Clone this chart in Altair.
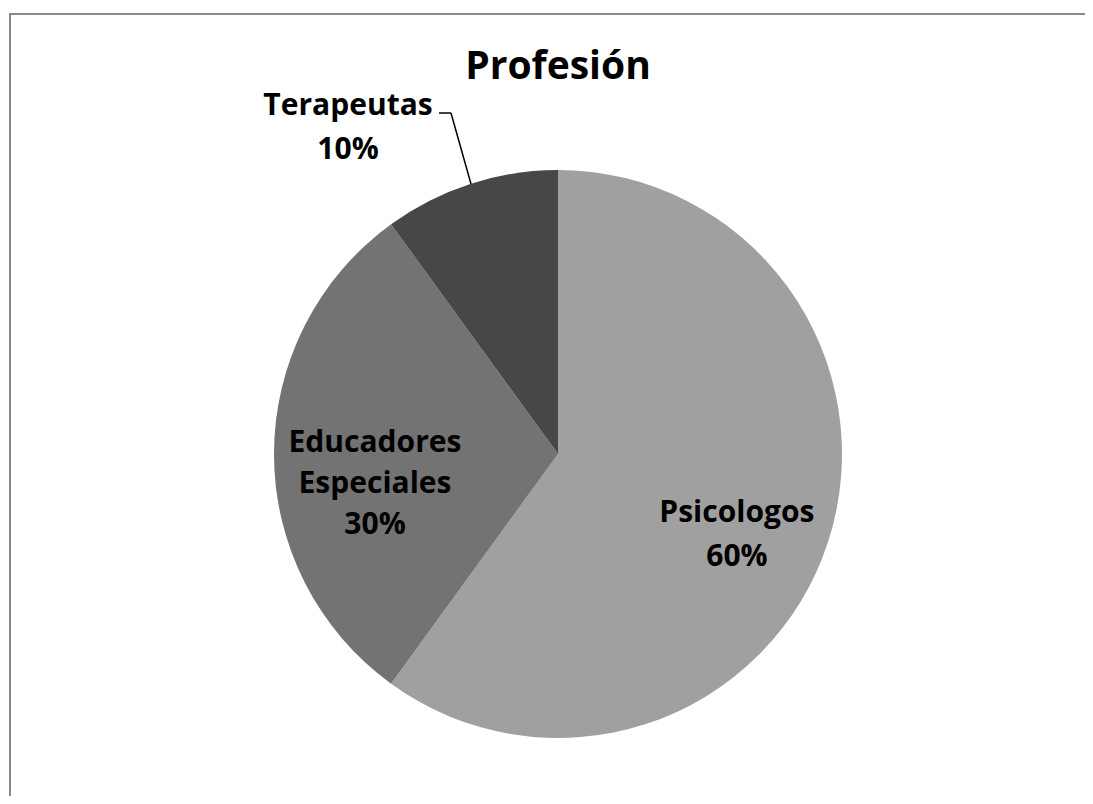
import altair as alt
import pandas as pd

# Data
categories = ["Psicologos", "Educadores Especiales", "Terapeutas"]
values = [60, 30, 10]
order = [0, 1, 2]
colors = ["#A0A0A0", "#737373", "#474747"]

df = pd.DataFrame({"cat": categories, "value": values, "idx": order})

W, H = 1077, 788
CX, CY = 549, 446
R = 284
FONT = "Open Sans"

base = alt.Chart(df)

arcs = base.mark_arc(outerRadius=R).encode(
    theta=alt.Theta("value:Q", stack=True),
    color=alt.Color("cat:N", scale=alt.Scale(domain=categories, range=colors), legend=None),
    order=alt.Order("idx:Q"),
    x=alt.value(CX),
    y=alt.value(CY),
)

labeled = base.transform_window(
    cum="sum(value)", sort=[alt.SortField("idx")]
).transform_calculate(
    mid="datum.cum - datum.value / 2",
    label="replace(datum.cat, ' ', '\\n') + '\\n' + datum.value + '%'",
)

theta_mid = alt.Theta("mid:Q", scale=alt.Scale(domain=[0, sum(values)]))


def label_layer(cat, radius, dx, dy, lh):
    return labeled.transform_filter(f"datum.cat == '{cat}'").mark_text(
        radius=radius, dx=dx, dy=dy, font=FONT, fontSize=30, fontWeight="bold",
        lineBreak="\n", lineHeight=lh, align="center", baseline="middle", color="black",
    ).encode(theta=theta_mid, text="label:N", x=alt.value(CX), y=alt.value(CY))


lab_psi = label_layer("Psicologos", 186, 2, 2, 44)
lab_edu = label_layer("Educadores Especiales", 186, 3, -11, 41)
lab_ter = label_layer("Terapeutas", 330, -108, -34, 44)

one = alt.Data(values=[{"k": 1}])

leader1 = alt.Chart(one).mark_rule(color="black", strokeWidth=1.5).encode(
    x=alt.value(462), y=alt.value(176), x2=alt.value(442), y2=alt.value(105)
)
leader2 = alt.Chart(one).mark_rule(color="black", strokeWidth=1.5).encode(
    x=alt.value(442), y=alt.value(105), x2=alt.value(430), y2=alt.value(105)
)

border_top = alt.Chart(one).mark_rule(color="#888888", strokeWidth=2).encode(
    x=alt.value(0), x2=alt.value(W + 8), y=alt.value(6)
)
border_left = alt.Chart(one).mark_rule(color="#888888", strokeWidth=2).encode(
    x=alt.value(1), y=alt.value(6), y2=alt.value(H + 8)
)

title = alt.Chart(one).mark_text(
    text="Profesión", font=FONT, fontSize=39, fontWeight="bold",
    align="center", baseline="alphabetic", color="black",
).encode(x=alt.value(CX), y=alt.value(71))

chart = alt.layer(
    arcs, lab_psi, lab_edu, lab_ter, leader1, leader2, border_top, border_left, title
).resolve_scale(theta="independent").properties(
    width=W, height=H,
    padding=0,
    autosize=alt.AutoSizeParams(type="fit", contains="padding"),
    view=alt.ViewBackground(strokeOpacity=0, strokeWidth=0),
).configure_view(strokeWidth=0, strokeOpacity=0).configure(background="white")

chart.save("out.html", embed_options={"renderer": "svg", "actions": False})
